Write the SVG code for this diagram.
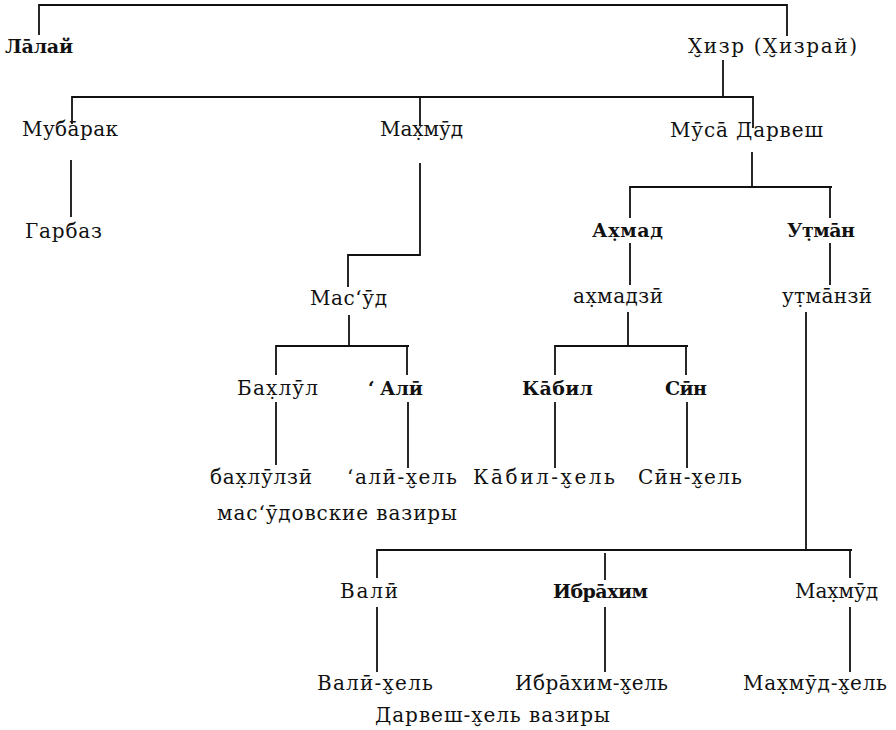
<svg xmlns="http://www.w3.org/2000/svg" width="896" height="730" viewBox="0 0 896 730">
<style>
text{font-family:"DejaVu Serif","Liberation Serif",serif;font-size:20px;fill:#111}
.b{font-weight:bold;font-size:19px}
#connectors path{fill:none;stroke:#111;stroke-width:1.8}
</style>
<rect width="896" height="730" fill="#fff"/>
<g id="connectors">
<path d="M39,35 V5 H787 V36"/>
<path d="M723,60 V97"/>
<path d="M72,124 V97 H753 V128"/>
<path d="M420,97 V125"/>
<path d="M71,160 V217"/>
<path d="M420,163 V255 H348 V287"/>
<path d="M349,315 V346"/>
<path d="M276,375 V346 H409"/>
<path d="M407,346 V375"/>
<path d="M276,402 V465"/>
<path d="M408,402 V468"/>
<path d="M752,152 V187"/>
<path d="M630,218 V187 H832"/>
<path d="M830,187 V218"/>
<path d="M630,243 V285"/>
<path d="M830,243 V285"/>
<path d="M628,312 V346"/>
<path d="M555,375 V346 H688"/>
<path d="M686,346 V375"/>
<path d="M555,402 V468"/>
<path d="M687,402 V468"/>
<path d="M806,312 V550"/>
<path d="M377,578 V550 H852"/>
<path d="M850,550 V578"/>
<path d="M605,553 V580"/>
<path d="M377,607 V672"/>
<path d="M605,607 V672"/>
<path d="M850,607 V672"/>
</g>
<g id="lalai"><text class="b" x="5" y="53" textLength="68" lengthAdjust="spacing">Лāлай</text></g>
<g id="hizr"><text x="688" y="53" textLength="169" lengthAdjust="spacing">Х̮изр (Х̮израй)</text></g>
<g id="mubarak"><text x="22" y="136" textLength="96" lengthAdjust="spacing">Мубāрак</text></g>
<g id="mahmud1"><text x="380" y="136" textLength="83" lengthAdjust="spacing">Мах̣мӯд</text></g>
<g id="musa"><text x="670" y="137" textLength="153" lengthAdjust="spacing">Мӯсā Дарвеш</text></g>
<g id="garbaz"><text x="25" y="238" textLength="77" lengthAdjust="spacing">Гарбаз</text></g>
<g id="ahmad"><text class="b" x="592" y="237" textLength="71" lengthAdjust="spacing">Ах̣мад</text></g>
<g id="utman"><text class="b" x="787" y="237" textLength="68" lengthAdjust="spacing">Ут̣мāн</text></g>
<g id="masud"><text x="310" y="305" textLength="77" lengthAdjust="spacing">Масʻӯд</text></g>
<g id="ahmadzai"><text x="573" y="303" textLength="90" lengthAdjust="spacing">ах̣мадзӣ</text></g>
<g id="utmanzai"><text x="782" y="303" textLength="90" lengthAdjust="spacing">ут̣мāнзӣ</text></g>
<g id="bahlul"><text x="237" y="395" textLength="81" lengthAdjust="spacing">Бах̣лӯл</text></g>
<g id="ali"><text class="b" x="368 380" y="395">ʻАлӣ</text></g>
<g id="kabil"><text class="b" x="522" y="395" textLength="71" lengthAdjust="spacing">Кāбил</text></g>
<g id="sin"><text class="b" x="665" y="395" textLength="42" lengthAdjust="spacing">Сӣн</text></g>
<g id="bahlulzai"><text x="210" y="484" textLength="102" lengthAdjust="spacing">бах̣лӯлзӣ</text></g>
<g id="ali-khel"><text x="347" y="484" textLength="110" lengthAdjust="spacing">ʻалӣ-х̮ель</text></g>
<g id="kabil-khel"><text x="473" y="484" textLength="142" lengthAdjust="spacing">Кāбил-х̮ель</text></g>
<g id="sin-khel"><text x="638" y="484" textLength="104" lengthAdjust="spacing">Сӣн-х̮ель</text></g>
<g id="masud-waziri"><text x="217" y="520" textLength="240" lengthAdjust="spacing">масʻӯдовские вазиры</text></g>
<g id="wali"><text x="340" y="598" textLength="58" lengthAdjust="spacing">Валӣ</text></g>
<g id="ibrahim"><text class="b" x="553" y="598" textLength="95" lengthAdjust="spacing">Ибрāхим</text></g>
<g id="mahmud2"><text x="795" y="598" textLength="83" lengthAdjust="spacing">Мах̣мӯд</text></g>
<g id="wali-khel"><text x="317" y="690" textLength="116" lengthAdjust="spacing">Валӣ-х̮ель</text></g>
<g id="ibrahim-khel"><text x="515" y="690" textLength="153" lengthAdjust="spacing">Ибрāхим-х̮ель</text></g>
<g id="mahmud-khel"><text x="743" y="690" textLength="144" lengthAdjust="spacing">Мах̣мӯд-х̮ель</text></g>
<g id="darwesh-waziri"><text x="375" y="722" textLength="235" lengthAdjust="spacing">Дарвеш-х̮ель вазиры</text></g>
</svg>
